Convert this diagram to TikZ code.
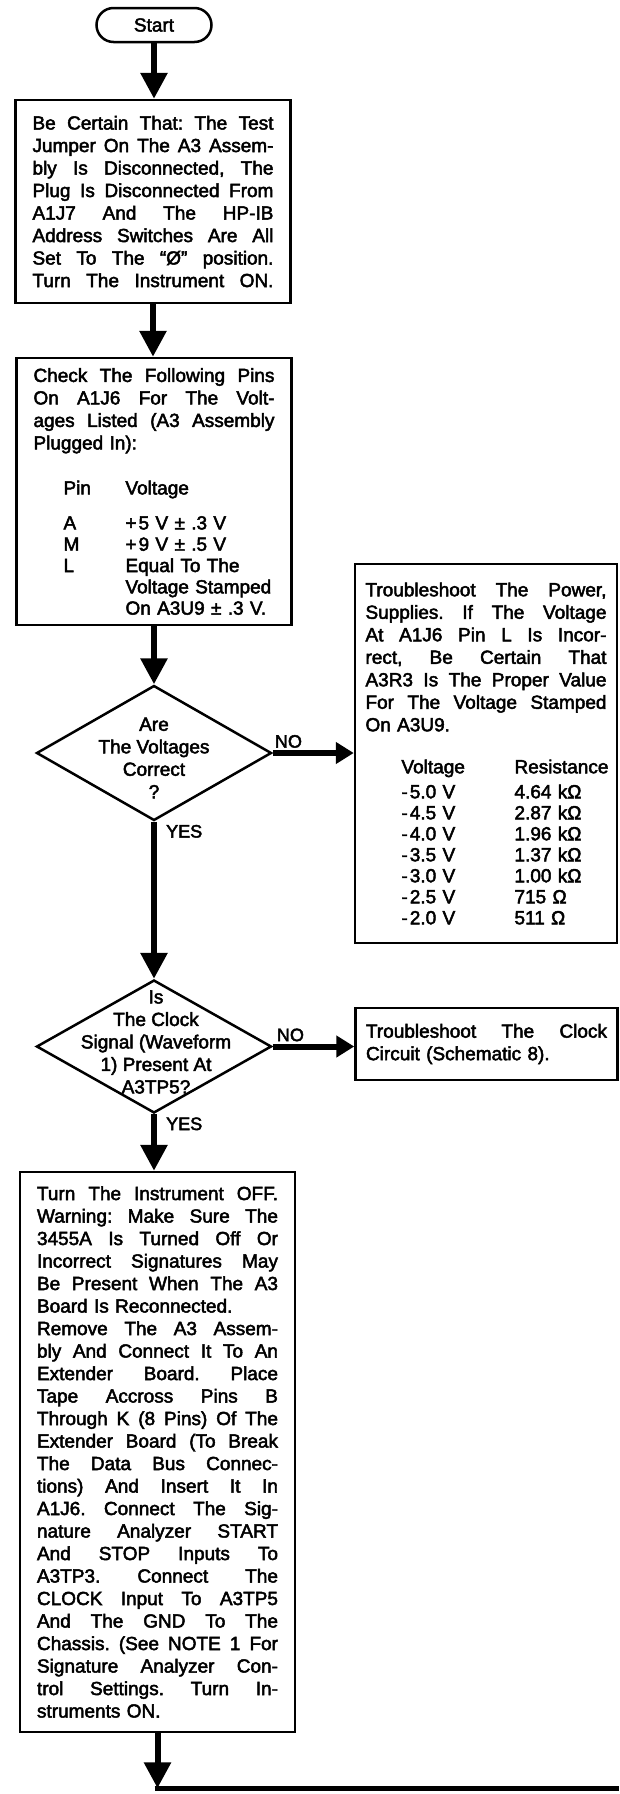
\documentclass[tikz,border=0pt]{standalone}
\usepackage{fontspec}
\setmainfont{Liberation Sans}[FakeBold=2.5]
\usetikzlibrary{arrows.meta, positioning, shapes.geometric}

% one justified line of box text, and a fixed-width column cell
\newcommand{\jl}[1]{{\spaceskip=0pt \xspaceskip=0pt \makebox[241pt][s]{#1}}}
\newcommand{\col}[2]{\makebox[#1][l]{#2}}

\begin{document}
\frenchspacing
\begin{tikzpicture}[x=1pt, y=-1pt,
      every node/.style={font=\fontsize{19}{22.5}\selectfont},
      box/.style={draw, line width=2.5pt, text width=241pt, inner xsep=17pt, inner ysep=4pt, align=left},
      sidebox/.style={box, inner xsep=10.5pt},
      term/.style={draw, line width=2.5pt, rounded corners=17pt, minimum width=115pt, minimum height=34pt},
      decision/.style={draw, diamond, line width=2.5pt, inner sep=0pt, minimum width=235pt, minimum height=135pt},
      qtext/.style={align=center, inner sep=0pt},
      lbl/.style={inner xsep=2pt, inner ysep=5pt, font=\fontsize{18}{20}\selectfont},
      flow/.style={-{Triangle[length=26pt, width=26pt]}, line width=6pt},
      noflow/.style={-{Triangle[length=18pt, width=21pt]}, line width=6pt}]

    \useasboundingbox (0,0) rectangle (619,1794);

    % main column
    \node[term] (start) at (154,25) {Start};

    \node[box, minimum height=203pt] (certain) at (153,201.5)
      {\jl{Be Certain That: The Test}\\
       \jl{Jumper On The A3 Assem-}\\
       \jl{bly Is Disconnected, The}\\
       \jl{Plug Is Disconnected From}\\
       \jl{A1J7 And The HP-IB}\\
       \jl{Address Switches Are All}\\
       \jl{Set To The “Ø” position.}\\
       \jl{Turn The Instrument ON.}};

    \node[box, minimum height=267pt] (pins) at (154,491.5)
      {\jl{Check The Following Pins}\\
       \jl{On A1J6 For The Volt-}\\
       \jl{ages Listed (A3 Assembly}\\
       Plugged In):\\[22.5pt]
       \hspace*{30pt}\col{62pt}{Pin}Voltage\\[12.5pt]
       \hspace*{30pt}\col{62pt}{A}+\kern2pt5 V ± .3 V\\[-1.2pt]
       \hspace*{30pt}\col{62pt}{M}+\kern2pt9 V ± .5 V\\[-1.2pt]
       \hspace*{30pt}\col{62pt}{L}Equal To The\\[-1.2pt]
       \hspace*{30pt}\col{62pt}{}Voltage Stamped\\[-1.2pt]
       \hspace*{30pt}\col{62pt}{}On A3U9 ± .3 V.};

    \node[decision] (volt) at (154,753) {};
    \node[qtext] (volttext) at (154,758) {Are\\The Voltages\\Correct\\?};

    \node[decision, minimum height=133pt] (clock) at (154,1046.5) {};
    \node[qtext] (clocktext) at (156,1042) {Is\\The Clock\\Signal (Waveform\\1) Present At\\A3TP5?};

    \node[box, minimum height=560pt] (setup) at (157.5,1452)
      {\jl{Turn The Instrument OFF.}\\
       \jl{Warning: Make Sure The}\\
       \jl{3455A Is Turned Off Or}\\
       \jl{Incorrect Signatures May}\\
       \jl{Be Present When The A3}\\
       Board Is Reconnected.\\
       \jl{Remove The A3 Assem-}\\
       \jl{bly And Connect It To An}\\
       \jl{Extender Board. Place}\\
       \jl{Tape Accross Pins B}\\
       \jl{Through K (8 Pins) Of The}\\
       \jl{Extender Board (To Break}\\
       \jl{The Data Bus Connec-}\\
       \jl{tions) And Insert It In}\\
       \jl{A1J6. Connect The Sig-}\\
       \jl{nature Analyzer START}\\
       \jl{And STOP Inputs To}\\
       \jl{A3TP3. Connect The}\\
       \jl{CLOCK Input To A3TP5}\\
       \jl{And The GND To The}\\
       \jl{Chassis. (See NOTE 1 For}\\
       \jl{Signature Analyzer Con-}\\
       \jl{trol Settings. Turn In-}\\
       struments ON.};

    % side branches
    \node[sidebox, minimum height=379pt] (power) at (486,753.5)
      {\jl{Troubleshoot The Power,}\\
       \jl{Supplies. If The Voltage}\\
       \jl{At A1J6 Pin L Is Incor-}\\
       \jl{rect, Be Certain That}\\
       \jl{A3R3 Is The Proper Value}\\
       \jl{For The Voltage Stamped}\\
       On A3U9.\\[19.5pt]
       \hspace*{36pt}\col{113pt}{Voltage}Resistance\\[2.5pt]
       \hspace*{36pt}\col{113pt}{-\kern2pt5.0 V}4.64 kΩ\\[-1.5pt]
       \hspace*{36pt}\col{113pt}{-\kern2pt4.5 V}2.87 kΩ\\[-1.5pt]
       \hspace*{36pt}\col{113pt}{-\kern2pt4.0 V}1.96 kΩ\\[-1.5pt]
       \hspace*{36pt}\col{113pt}{-\kern2pt3.5 V}1.37 kΩ\\[-1.5pt]
       \hspace*{36pt}\col{113pt}{-\kern2pt3.0 V}1.00 kΩ\\[-1.5pt]
       \hspace*{36pt}\col{113pt}{-\kern2pt2.5 V}715 Ω\\[-1.5pt]
       \hspace*{36pt}\col{113pt}{-\kern2pt2.0 V}511 Ω\\[4pt]};

    \node[sidebox, minimum height=72pt] (clkfix) at (486.5,1044)
      {\jl{Troubleshoot The Clock}\\
       Circuit (Schematic 8).};

    % connectors
    \draw[flow] (start.south) -- (start.south |- certain.north);
    \draw[flow] (certain.south) -- (certain.south |- pins.north);
    \draw[flow] (pins.south) -- (pins.south |- volt.north);
    \draw[flow] (volt.south) -- (volt.south |- clock.north);
    \draw[flow] (clock.south) -- (clock.south |- setup.north);
    \draw[noflow] (volt.east) -- (volt.east -| power.west);
    \draw[noflow] (clock.east) -- (clock.east -| clkfix.west);

    \node[lbl, anchor=south west] (voltno) at (volt.east) {NO};
    \node[lbl, anchor=north west, xshift=10pt, inner ysep=3pt] (voltyes) at (volt.south) {YES};
    \node[lbl, anchor=south west, xshift=2pt] (clockno) at (clock.east) {NO};
    \node[lbl, anchor=north west, xshift=10pt, inner ysep=3pt] (clockyes) at (clock.south) {YES};

    % on to the next page
    \coordinate[below=55pt of setup] (merge);
    \coordinate (rim) at (619,0);
    \draw[flow] (setup.south) -- (merge);
    \draw[line width=5pt] ([xshift=-3pt]merge) -- (merge -| rim);

\end{tikzpicture}
\end{document}
